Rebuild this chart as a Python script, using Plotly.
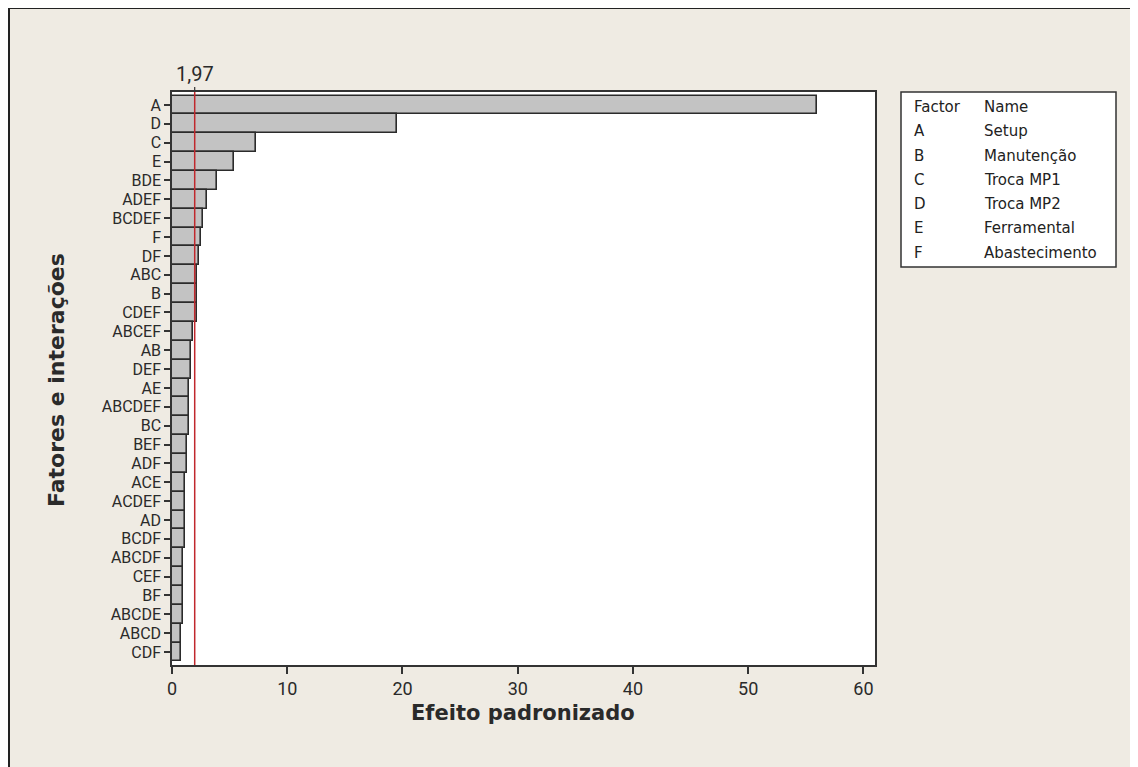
import plotly.graph_objects as go

# ---- data ----
factors = ["A", "D", "C", "E", "BDE", "ADEF", "BCDEF", "F", "DF", "ABC", "B", "CDEF",
           "ABCEF", "AB", "DEF", "AE", "ABCDEF", "BC", "BEF", "ADF", "ACE", "ACDEF",
           "AD", "BCDF", "ABCDF", "CEF", "BF", "ABCDE", "ABCD", "CDF"]
effects = [56.0, 19.5, 7.3, 5.4, 3.9, 3.0, 2.67, 2.5, 2.32, 2.15, 2.14, 2.13,
           1.8, 1.65, 1.62, 1.5, 1.48, 1.47, 1.3, 1.29, 1.13, 1.12,
           1.11, 1.1, 0.96, 0.95, 0.94, 0.93, 0.78, 0.77]
critical = 1.97
critical_label = "1,97"
legend_codes = ["A", "B", "C", "D", "E", "F"]
legend_names = ["Setup", "Manutenção", "Troca MP1", "Troca MP2", "Ferramental", "Abastecimento"]
x_ticks = [0, 10, 20, 30, 40, 50, 60]

# ---- geometry (screen pixels; page body has an 8px margin) ----
OFF = 8
W, H = 1138 - OFF, 767 - OFF
PL, PT, PR, PB = 172, 92, 875, 665          # plot area in screen px
PW, PH = PR - PL, PB - PT
ml, mt = PL - OFF, PT - OFF
mr, mb = W - ml - PW, H - mt - PH


def px(x):
    return (x - PL) / PW


def py(y):
    return (PB - y) / PH


BG = "#EFEBE3"
TICKFONT = "Roboto"
TITLEFONT = "DejaVu Sans"
TXT = "#2a2a2a"

fig = go.Figure()
fig.add_trace(go.Bar(
    x=effects, y=factors, orientation="h",
    marker=dict(color="#C3C3C3", line=dict(color="#2b2b2b", width=1.6)),
    hoverinfo="x+y",
))

n = len(factors)
pad = 0.69
fig.update_layout(
    width=W, height=H,
    margin=dict(l=ml, r=mr, t=mt, b=mb),
    paper_bgcolor=BG, plot_bgcolor="white",
    bargap=0, showlegend=False,
    xaxis=dict(range=[0, 61], tickmode="array", tickvals=x_ticks, ticks="outside", ticklen=7,
               tickwidth=1.5, tickcolor="#333", showgrid=False, zeroline=False,
               showline=True, linecolor="#333", linewidth=1.5, mirror=True,
               tickfont=dict(family=TICKFONT, size=18, color=TXT)),
    yaxis=dict(type="category", range=[n - 1 + pad, -pad], tickmode="array",
               tickvals=factors, ticktext=factors, ticks="outside", ticklen=6,
               tickwidth=1.5, tickcolor="#333", showgrid=False, zeroline=False,
               showline=True, linecolor="#333", linewidth=1.5, mirror=True,
               tickfont=dict(family=TICKFONT, size=16, color=TXT)),
)

# axis titles
fig.add_annotation(x=px(523), y=py(713), xref="paper", yref="paper",
                   text="<b>Efeito padronizado</b>", showarrow=False,
                   xanchor="center", yanchor="middle",
                   font=dict(family=TITLEFONT, size=21, color=TXT))
fig.add_annotation(x=px(56), y=py(380), xref="paper", yref="paper",
                   text="<b>Fatores e interações</b>", showarrow=False, textangle=-90,
                   xanchor="center", yanchor="middle",
                   font=dict(family=TITLEFONT, size=22, color=TXT))

# reference line
fig.add_shape(type="line", xref="x", yref="paper", x0=critical, x1=critical, y0=0, y1=1,
              line=dict(color="#C0282D", width=1.5))
fig.add_shape(type="line", xref="x", yref="paper", x0=critical, x1=critical, y0=1, y1=py(87),
              line=dict(color="#333", width=1.2))
fig.add_annotation(x=critical, y=py(74), xref="x", yref="paper", text=critical_label,
                   showarrow=False, font=dict(family=TICKFONT, size=20, color=TXT),
                   xanchor="center", yanchor="middle")

# outer frame (left and top edges)
fig.add_shape(type="line", xref="paper", yref="paper", x0=px(9), x1=px(9), y0=py(8), y1=py(H + 20),
              line=dict(color="#222", width=2))
fig.add_shape(type="line", xref="paper", yref="paper", x0=px(9), x1=px(W + 20), y0=py(8), y1=py(8),
              line=dict(color="#222", width=2))

# factor legend table
fig.add_shape(type="rect", xref="paper", yref="paper", x0=px(901), x1=px(1116), y0=py(267), y1=py(92),
              fillcolor="white", line=dict(color="#333", width=1.5))
rows = [("Factor", "Name")] + list(zip(legend_codes, legend_names))
for i, (c, nm) in enumerate(rows):
    yy = py(107 + i * 24.3)
    fig.add_annotation(x=px(912), y=yy, xref="paper", yref="paper", text=c, showarrow=False,
                       xanchor="left", yanchor="middle", font=dict(family=TITLEFONT, size=15, color="#222"))
    fig.add_annotation(x=px(982), y=yy, xref="paper", yref="paper", text=nm, showarrow=False,
                       xanchor="left", yanchor="middle", font=dict(family=TITLEFONT, size=15, color="#222"))

fig.write_html("out.html")
